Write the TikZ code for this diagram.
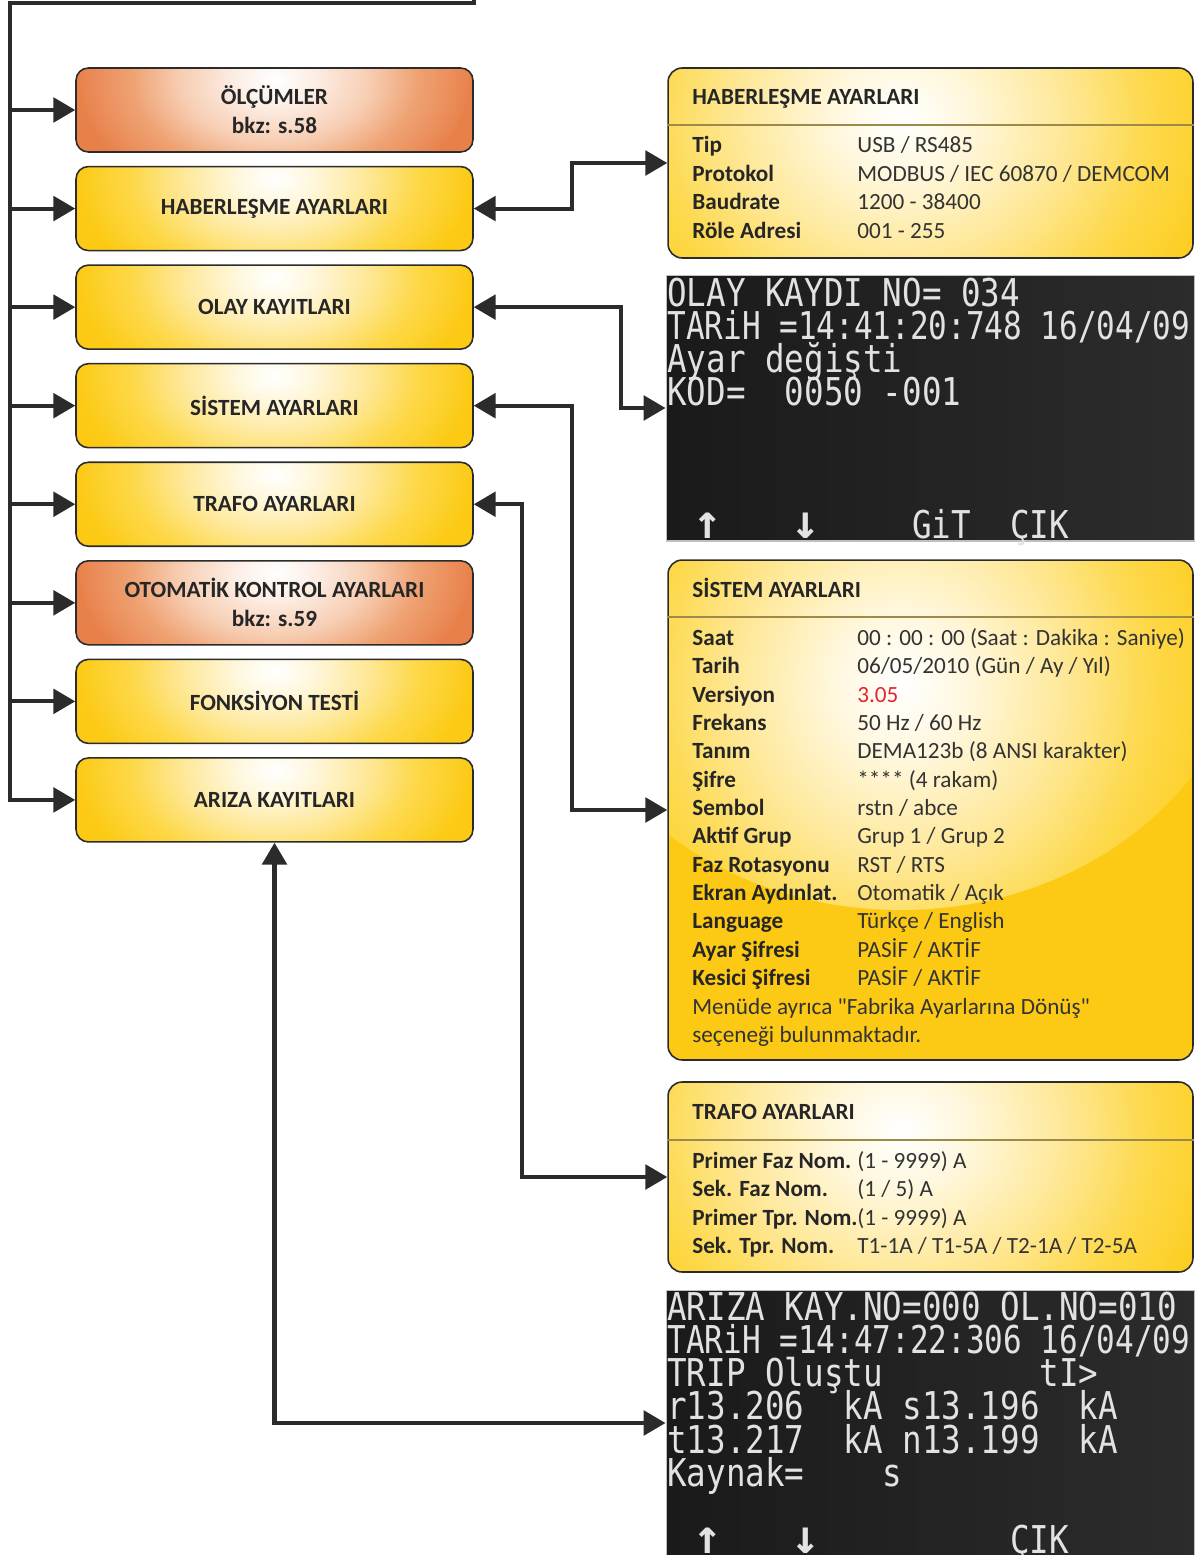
\documentclass[tikz,border=0pt]{standalone}
\usepackage{fontspec}
\setmainfont{Carlito}
\newfontfamily\lcdfont[FakeStretch=0.85]{DejaVu Sans Mono}
\newfontfamily\lcdnarrow[FakeStretch=0.81]{DejaVu Sans Mono}
\newfontfamily\lcdarrow{DejaVu Sans Mono Bold}
\usetikzlibrary{arrows.meta, positioning}

\definecolor{linegray}{HTML}{2B2B2B}
\definecolor{txtgray}{HTML}{262626}
\definecolor{valgray}{HTML}{333333}
\definecolor{yelA}{HTML}{FFF7DC}
\definecolor{yelB}{HTML}{FEE794}
\definecolor{yelC}{HTML}{FDD848}
\definecolor{yelD}{HTML}{FCCA14}
\definecolor{orA}{HTML}{FCEEE5}
\definecolor{orB}{HTML}{F7CDB2}
\definecolor{orC}{HTML}{EFA273}
\definecolor{orD}{HTML}{E8804A}
\definecolor{lcdA}{HTML}{1A1A1A}
\definecolor{lcdB}{HTML}{2C2C2C}
\definecolor{lcdtx}{HTML}{E2E2E2}
\definecolor{verred}{HTML}{E3262C}
\definecolor{divcol}{HTML}{9C8A4A}

\pgfdeclareradialshading{yelglow}{\pgfpoint{0bp}{0bp}}{%
  color(0bp)=(white); color(5bp)=(yelA); color(12bp)=(yelB);
  color(18bp)=(yelC); color(22bp)=(yelC!45!yelD); color(25bp)=(yelD);
  color(50bp)=(yelD)}
\pgfdeclareradialshading{orglow}{\pgfpoint{0bp}{0bp}}{%
  color(0bp)=(white); color(5bp)=(orA); color(12bp)=(orB);
  color(18bp)=(orC); color(22bp)=(orC!45!orD); color(25bp)=(orD);
  color(50bp)=(orD)}

\tikzset{
  conn/.style = {line width=2.3pt, draw=linegray},
  myarrow/.style = {conn, ->},
  dblarrow/.style = {conn, <->},
  menubox/.style = {
    rectangle, rounded corners=7pt, draw=linegray, line width=0.9pt,
    fill=yelD, path picture={\shade[shading=yelglow]
      ([yshift=0.6cm]path picture bounding box.center) ellipse (3.9cm and 2.6cm);},
    minimum width=7.94cm, minimum height=1.68cm, align=center,
    text=txtgray, font=\bfseries\fontsize{13.2}{16.5}\selectfont
  },
  refbox/.style = {
    menubox, fill=orD, path picture={\shade[shading=orglow]
      ([yshift=0.6cm]path picture bounding box.center) ellipse (3.9cm and 2.6cm);}
  },
  panel/.style = {
    rectangle, rounded corners=8pt, draw=linegray, line width=0.9pt,
    fill=yelD, path picture={\shade[shading=yelglow]
      ([xshift=-0.6cm, yshift=-1cm]path picture bounding box.north) ellipse (7cm and 6cm);},
    minimum width=10.5cm
  },
  lcd/.style = {
    rectangle, draw=gray!50, line width=0.6pt, left color=lcdA, right color=lcdB,
    minimum width=10.58cm, minimum height=5.32cm
  },
  divline/.style = {draw=divcol, line width=0.6pt},
  ptitle/.style = {anchor=base west, inner sep=0pt, text=txtgray,
    font=\bfseries\fontsize{13.2}{16}\selectfont},
  pkey/.style = {ptitle},
  pval/.style = {anchor=base west, inner sep=0pt, text=valgray,
    font=\fontsize{13.2}{16}\selectfont},
  lcdtxt/.style = {anchor=base west, inner sep=0pt, text=lcdtx,
    font=\lcdfont\fontsize{21.8}{22}\selectfont},
  lcdkey/.style = {anchor=base, inner sep=0pt, text=lcdtx,
    font=\lcdarrow\fontsize{27}{27}\selectfont}
}

\begin{document}
\begin{tikzpicture}[x=0.02cm, y=-0.02cm, node distance=0.26cm,
  >={Triangle[length=12.5pt, width=14pt]}]
  \useasboundingbox (0,0) rectangle (1198,1555);

  % Menu
  \node[refbox] (olc) at (274.5,110) {ÖLÇÜMLER\\bkz: s.58};
  \node[menubox, below=of olc] (hab) {HABERLEŞME AYARLARI};
  \node[menubox, below=of hab] (olay) {OLAY KAYITLARI};
  \node[menubox, below=of olay] (sis) {SİSTEM AYARLARI};
  \node[menubox, below=of sis] (trafo) {TRAFO AYARLARI};
  \node[refbox, below=of trafo] (oto) {OTOMATİK KONTROL AYARLARI\\bkz: s.59};
  \node[menubox, below=of oto] (fonk) {FONKSİYON TESTİ};
  \node[menubox, below=of fonk] (ariza) {ARIZA KAYITLARI};

  % Haberlesme panel
  \node[panel, minimum height=3.8cm] (habp) at (930.5,163) {};
  \node[ptitle] (habt) at (692,104.5) {HABERLEŞME AYARLARI};
  \draw[divline] (habp.west |- 0,125) -- (habp.east |- 0,125);
  \foreach \k/\v [count=\i from 0] in {Tip/{USB / RS485},
      Protokol/{MODBUS / IEC 60870 / DEMCOM}, Baudrate/{1200 - 38400},
      Röle Adresi/{001 - 255}}
  {
    \node[pkey] (habk\i) at (692,152.5+28.5*\i) {\k};
    \node[pval] (habv\i) at (857,152.5+28.5*\i) {\v};
  }

  % Olay kaydi screen
  \node[lcd] (olaylcd) at (930.5,408) {};
  \foreach \f/\t [count=\i from 0] in {\lcdfont/{OLAY KAYDI NO= 034},
      \lcdnarrow/{TARiH =14:41:20:748 16/04/09}, \lcdfont/{Ayar değişti},
      \lcdfont/{KOD=~~0050 -001}}
    \node[lcdtxt] (olayl\i) at (667,306+33*\i) {\f\t};
  \node[lcdkey] (olayup) at (708,538) {↑};
  \node[lcdkey] (olaydn) at (806,538) {↓};
  \node[lcdtxt] (olaygit) at (912,538) {GiT};
  \node[lcdtxt] (olaycik) at (1010,538) {ÇIK};

  % Sistem panel
  \node[panel, minimum height=10cm] (sisp) at (930.5,810) {};
  \node[ptitle] (sist) at (692,597.5) {SİSTEM AYARLARI};
  \draw[divline] (sisp.west |- 0,617) -- (sisp.east |- 0,617);
  \foreach \k/\v [count=\i from 0] in {Saat/{00 : 00 : 00 (Saat : Dakika : Saniye)},
      Tarih/{06/05/2010 (Gün / Ay / Yıl)}, Versiyon/{\textcolor{verred}{3.05}},
      Frekans/{50 Hz / 60 Hz}, Tanım/{DEMA123b (8 ANSI karakter)},
      Şifre/{**** (4 rakam)}, Sembol/{rstn / abce}, Aktif Grup/{Grup 1 / Grup 2},
      Faz Rotasyonu/{RST / RTS}, Ekran Aydınlat./{Otomatik / Açık},
      Language/{Türkçe / English}, Ayar Şifresi/{PASİF / AKTİF},
      Kesici Şifresi/{PASİF / AKTİF}}
  {
    \node[pkey] (sisk\i) at (692,645.5+28.33*\i) {\k};
    \node[pval] (sisv\i) at (857,645.5+28.33*\i) {\v};
  }
  \node[pval] (sisn1) at (692,1014.5)
    {Menüde ayrıca \textquotedbl Fabrika Ayarlarına Dönüş\textquotedbl};
  \node[pval] (sisn2) at (692,1042.5) {seçeneği bulunmaktadır.};

  % Trafo panel
  \node[panel, minimum height=3.8cm] (trafop) at (930.5,1177) {};
  \node[ptitle] (trafot) at (692,1119.5) {TRAFO AYARLARI};
  \draw[divline] (trafop.west |- 0,1140) -- (trafop.east |- 0,1140);
  \foreach \k/\v [count=\i from 0] in {Primer Faz Nom./{(1 - 9999) A},
      Sek. Faz Nom./{(1 / 5) A}, Primer Tpr. Nom./{(1 - 9999) A},
      Sek. Tpr. Nom./{T1-1A / T1-5A / T2-1A / T2-5A}}
  {
    \node[pkey] (trafok\i) at (692,1168.5+28.4*\i) {\k};
    \node[pval] (trafov\i) at (857,1168.5+28.4*\i) {\v};
  }

  % Ariza kaydi screen
  \node[lcd] (arizalcd) at (930.5,1423) {};
  \foreach \f/\t [count=\i from 0] in {\lcdfont/{ARIZA KAY.NO=000 OL.NO=010},
      \lcdnarrow/{TARiH =14:47:22:306 16/04/09}, \lcdfont/{TRIP Oluştu~~~~~~~~tI>},
      \lcdfont/{r13.206~~kA~s13.196~~kA}, \lcdfont/{t13.217~~kA~n13.199~~kA},
      \lcdfont/{Kaynak=~~~~s}}
    \node[lcdtxt] (arizal\i) at (667,1320+33.3*\i) {\f\t};
  \node[lcdkey] (arizaup) at (708,1553) {↑};
  \node[lcdkey] (arizadn) at (806,1553) {↓};
  \node[lcdtxt] (arizacik) at (1010,1553) {ÇIK};

  % Connections
  \coordinate (feed) at (474,-10);
  \coordinate (trunk) at (10,3);
  \draw[conn, line cap=rect] (feed) |- (trunk) -- (trunk |- ariza.west);
  \foreach \b in {olc,hab,olay,sis,trafo,oto,fonk,ariza}
    \draw[myarrow] (trunk |- \b.west) -- (\b.west);
  \draw[dblarrow] (hab.east) -- ++(98,0) |- (habp.west);
  \draw[dblarrow] (olay.east) -- ++(147,0) |- (olaylcd.west);
  \draw[dblarrow] (sis.east) -- ++(98,0) |- (sisp.west);
  \draw[dblarrow] (trafo.east) -- ++(48,0) |- (trafop.west);
  \draw[dblarrow] (ariza.south) |- (arizalcd.west);
\end{tikzpicture}
\end{document}
